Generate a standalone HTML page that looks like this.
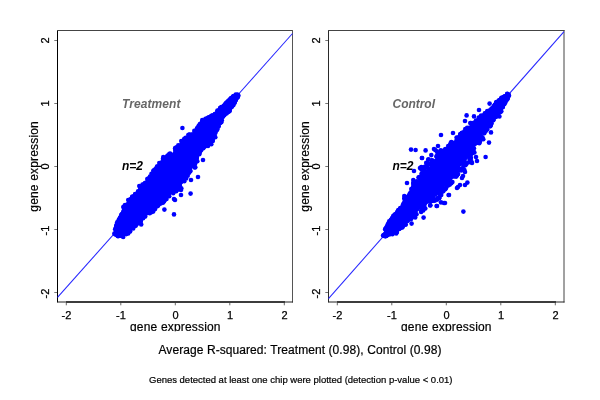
<!DOCTYPE html>
<html><head><meta charset="utf-8"><title>gene expression</title>
<style>
html,body{margin:0;padding:0;background:#fff;}
svg{display:block}
text{font-family:"Liberation Sans",sans-serif;fill:#000}
.t11{font-size:11px;stroke:#000;stroke-width:.25px}
.t12{font-size:12px;stroke:#000;stroke-width:.2px}
.t9{font-size:9.5px;stroke:#000;stroke-width:.2px}
.bi{font-size:12px;font-weight:bold;font-style:italic}
</style></head><body><svg width="600" height="400" viewBox="0 0 600 400"><defs><clipPath id="clipx"><rect x="0" y="300" width="600" height="31.3"/></clipPath></defs><rect width="600" height="400" fill="#fff"/><path d="M57.5 30V302.5" stroke="#000" fill="none"/><path d="M57 30.5H293" stroke="#444" fill="none"/><path d="M292.5 30V302.5" stroke="#555" fill="none"/><path d="M57.5 302H293" stroke="#222" fill="none"/><rect x="66" y="301.1" width="219" height="1.8" fill="#333"/><path d="M66.3 303V305.3" stroke="#666" stroke-width="1" fill="none"/><text x="66.5" y="319" text-anchor="middle" class="t11">-2</text><path d="M54.3 292.5H57" stroke="#777" stroke-width="1" fill="none"/><text transform="translate(49.3 293.5) rotate(-90)" text-anchor="middle" class="t11">-2</text><path d="M120.8 303V305.3" stroke="#666" stroke-width="1" fill="none"/><text x="121" y="319" text-anchor="middle" class="t11">-1</text><path d="M54.3 229.5H57" stroke="#777" stroke-width="1" fill="none"/><text transform="translate(49.3 230.5) rotate(-90)" text-anchor="middle" class="t11">-1</text><path d="M175.3 303V305.3" stroke="#666" stroke-width="1" fill="none"/><text x="175.5" y="319" text-anchor="middle" class="t11">0</text><path d="M54.3 166.5H57" stroke="#777" stroke-width="1" fill="none"/><text transform="translate(49.3 166.5) rotate(-90)" text-anchor="middle" class="t11">0</text><path d="M229.8 303V305.3" stroke="#666" stroke-width="1" fill="none"/><text x="230" y="319" text-anchor="middle" class="t11">1</text><path d="M54.3 103.5H57" stroke="#777" stroke-width="1" fill="none"/><text transform="translate(49.3 103.5) rotate(-90)" text-anchor="middle" class="t11">1</text><path d="M284.3 303V305.3" stroke="#666" stroke-width="1" fill="none"/><text x="284.5" y="319" text-anchor="middle" class="t11">2</text><path d="M54.3 40.5H57" stroke="#777" stroke-width="1" fill="none"/><text transform="translate(49.3 40.5) rotate(-90)" text-anchor="middle" class="t11">2</text><path d="M57.5 297.4L292.5 33.5" stroke="#2626ff" stroke-width="1.05" fill="none"/><text transform="translate(37.7 211.7) rotate(-90)" class="t12" textLength="90.5" lengthAdjust="spacing">gene expression</text><text x="130" y="331.4" class="t12" textLength="90.5" lengthAdjust="spacing" clip-path="url(#clipx)">gene expression</text><text x="122" y="108" class="bi" style="fill:#666" textLength="58.5" lengthAdjust="spacing">Treatment</text><text x="122" y="170" class="bi">n=2</text><path d="M328.5 30V302.5" stroke="#2a2a2a" fill="none"/><path d="M328 30.5H564.5" stroke="#444" fill="none"/><path d="M564 30V302.5" stroke="#444" fill="none"/><path d="M328.5 302H564.5" stroke="#222" fill="none"/><rect x="337" y="301.1" width="219" height="1.8" fill="#333"/><path d="M337.3 303V305.3" stroke="#666" stroke-width="1" fill="none"/><text x="337.5" y="319" text-anchor="middle" class="t11">-2</text><path d="M325.3 292.5H328" stroke="#777" stroke-width="1" fill="none"/><text transform="translate(320.3 293.5) rotate(-90)" text-anchor="middle" class="t11">-2</text><path d="M391.8 303V305.3" stroke="#666" stroke-width="1" fill="none"/><text x="392" y="319" text-anchor="middle" class="t11">-1</text><path d="M325.3 229.5H328" stroke="#777" stroke-width="1" fill="none"/><text transform="translate(320.3 230.5) rotate(-90)" text-anchor="middle" class="t11">-1</text><path d="M446.3 303V305.3" stroke="#666" stroke-width="1" fill="none"/><text x="446.5" y="319" text-anchor="middle" class="t11">0</text><path d="M325.3 166.5H328" stroke="#777" stroke-width="1" fill="none"/><text transform="translate(320.3 166.5) rotate(-90)" text-anchor="middle" class="t11">0</text><path d="M500.8 303V305.3" stroke="#666" stroke-width="1" fill="none"/><text x="501" y="319" text-anchor="middle" class="t11">1</text><path d="M325.3 103.5H328" stroke="#777" stroke-width="1" fill="none"/><text transform="translate(320.3 103.5) rotate(-90)" text-anchor="middle" class="t11">1</text><path d="M555.3 303V305.3" stroke="#666" stroke-width="1" fill="none"/><text x="555.5" y="319" text-anchor="middle" class="t11">2</text><path d="M325.3 40.5H328" stroke="#777" stroke-width="1" fill="none"/><text transform="translate(320.3 40.5) rotate(-90)" text-anchor="middle" class="t11">2</text><path d="M328.5 298.6L564 31.6" stroke="#2626ff" stroke-width="1.05" fill="none"/><text transform="translate(308.7 211.7) rotate(-90)" class="t12" textLength="90.5" lengthAdjust="spacing">gene expression</text><text x="401" y="331.4" class="t12" textLength="90.5" lengthAdjust="spacing" clip-path="url(#clipx)">gene expression</text><text x="392.5" y="108" class="bi" style="fill:#666" textLength="42.5" lengthAdjust="spacing">Control</text><text x="392.5" y="170" class="bi">n=2</text><g fill="#00f"><polygon points="115.9,234.8 119.1,235.0 115.2,229.1 117.7,222.5 122.0,215.8 124.6,208.3 129.7,201.5 136.5,195.3 140.9,187.6 148.7,180.4 154.8,172.5 161.0,164.7 165.1,158.8 170.7,155.4 176.7,149.4 182.7,142.4 189.5,136.2 198.1,128.9 203.4,121.1 211.7,116.5 221.5,107.3 231.3,98.1 236.3,93.5 238.7,95.9 233.1,105.2 228.9,111.0 223.1,116.2 220.7,121.8 216.4,128.6 213.8,136.0 209.5,142.8 202.1,147.3 197.9,153.1 195.4,159.7 193.0,165.3 181.8,179.2 178.4,185.8 167.0,194.4 161.1,200.4 156.4,203.7 151.3,209.7 143.8,215.1 139.4,222.7 131.9,227.2 127.0,232.3 122.2,236.0 119.1,235.0"/><circle cx="115.1" cy="234.3" r="2.3"/><circle cx="117.1" cy="231.9" r="2.3"/><circle cx="116.2" cy="227.6" r="2.3"/><circle cx="117.1" cy="225.2" r="2.3"/><circle cx="118.2" cy="222.5" r="2.3"/><circle cx="119.5" cy="219.9" r="2.3"/><circle cx="121.8" cy="217.7" r="2.3"/><circle cx="122.4" cy="214.9" r="2.3"/><circle cx="124.3" cy="212.1" r="2.3"/><circle cx="124.9" cy="209.0" r="2.3"/><circle cx="126.5" cy="206.1" r="2.3"/><circle cx="128.3" cy="204.1" r="2.3"/><circle cx="129.4" cy="202.3" r="2.3"/><circle cx="132.0" cy="200.7" r="2.3"/><circle cx="133.8" cy="198.7" r="2.3"/><circle cx="136.1" cy="196.3" r="2.3"/><circle cx="137.5" cy="194.0" r="2.3"/><circle cx="138.7" cy="191.9" r="2.3"/><circle cx="140.7" cy="189.1" r="2.3"/><circle cx="142.3" cy="187.3" r="2.3"/><circle cx="144.2" cy="185.1" r="2.3"/><circle cx="146.8" cy="183.2" r="2.3"/><circle cx="148.4" cy="181.6" r="2.3"/><circle cx="150.7" cy="179.5" r="2.3"/><circle cx="152.1" cy="176.7" r="2.3"/><circle cx="153.9" cy="174.2" r="2.3"/><circle cx="155.7" cy="172.8" r="2.3"/><circle cx="157.0" cy="170.7" r="2.3"/><circle cx="158.8" cy="168.6" r="2.3"/><circle cx="160.9" cy="165.8" r="2.3"/><circle cx="162.5" cy="163.3" r="2.3"/><circle cx="164.2" cy="161.3" r="2.3"/><circle cx="165.7" cy="159.1" r="2.3"/><circle cx="168.8" cy="157.7" r="2.3"/><circle cx="170.8" cy="156.2" r="2.3"/><circle cx="172.6" cy="154.7" r="2.3"/><circle cx="175.2" cy="152.4" r="2.3"/><circle cx="176.7" cy="149.8" r="2.3"/><circle cx="178.6" cy="148.3" r="2.3"/><circle cx="180.0" cy="146.3" r="2.3"/><circle cx="181.7" cy="143.9" r="2.3"/><circle cx="184.1" cy="142.4" r="2.3"/><circle cx="185.8" cy="140.1" r="2.3"/><circle cx="188.5" cy="138.4" r="2.3"/><circle cx="190.1" cy="136.5" r="2.3"/><circle cx="192.9" cy="134.6" r="2.3"/><circle cx="195.2" cy="132.5" r="2.3"/><circle cx="196.7" cy="130.8" r="2.3"/><circle cx="199.1" cy="129.1" r="2.3"/><circle cx="200.6" cy="125.8" r="2.3"/><circle cx="201.7" cy="124.1" r="2.3"/><circle cx="203.5" cy="121.9" r="2.3"/><circle cx="206.1" cy="120.0" r="2.3"/><circle cx="208.4" cy="119.1" r="2.3"/><circle cx="211.4" cy="117.5" r="2.3"/><circle cx="214.1" cy="115.4" r="2.3"/><circle cx="215.8" cy="113.7" r="2.3"/><circle cx="217.5" cy="111.3" r="2.3"/><circle cx="220.2" cy="109.7" r="2.3"/><circle cx="222.3" cy="107.8" r="2.3"/><circle cx="223.7" cy="105.9" r="2.3"/><circle cx="225.7" cy="104.4" r="2.3"/><circle cx="227.3" cy="102.1" r="2.3"/><circle cx="229.5" cy="100.1" r="2.3"/><circle cx="231.6" cy="98.0" r="2.3"/><circle cx="233.5" cy="96.4" r="2.3"/><circle cx="235.8" cy="94.6" r="2.3"/><circle cx="118.6" cy="235.2" r="2.3"/><circle cx="122.8" cy="234.3" r="2.3"/><circle cx="124.9" cy="233.0" r="2.3"/><circle cx="127.0" cy="230.9" r="2.3"/><circle cx="129.9" cy="229.1" r="2.3"/><circle cx="131.2" cy="227.0" r="2.3"/><circle cx="133.1" cy="225.5" r="2.3"/><circle cx="136.0" cy="223.9" r="2.3"/><circle cx="138.7" cy="222.0" r="2.3"/><circle cx="140.3" cy="220.7" r="2.3"/><circle cx="141.4" cy="217.3" r="2.3"/><circle cx="142.8" cy="214.7" r="2.3"/><circle cx="145.7" cy="213.5" r="2.3"/><circle cx="148.0" cy="211.4" r="2.3"/><circle cx="149.7" cy="210.0" r="2.3"/><circle cx="152.0" cy="208.4" r="2.3"/><circle cx="154.0" cy="206.0" r="2.3"/><circle cx="155.3" cy="203.6" r="2.3"/><circle cx="158.4" cy="202.0" r="2.3"/><circle cx="160.7" cy="200.3" r="2.3"/><circle cx="162.7" cy="198.3" r="2.3"/><circle cx="164.1" cy="196.6" r="2.3"/><circle cx="165.7" cy="194.1" r="2.3"/><circle cx="167.9" cy="192.8" r="2.3"/><circle cx="170.7" cy="191.2" r="2.3"/><circle cx="173.2" cy="188.8" r="2.3"/><circle cx="175.9" cy="187.4" r="2.3"/><circle cx="177.8" cy="185.3" r="2.3"/><circle cx="178.7" cy="183.3" r="2.3"/><circle cx="179.9" cy="180.8" r="2.3"/><circle cx="182.2" cy="178.4" r="2.3"/><circle cx="183.8" cy="175.8" r="2.3"/><circle cx="185.6" cy="174.0" r="2.3"/><circle cx="186.9" cy="172.1" r="2.3"/><circle cx="189.3" cy="169.4" r="2.3"/><circle cx="190.7" cy="167.1" r="2.3"/><circle cx="192.4" cy="165.6" r="2.3"/><circle cx="193.7" cy="162.8" r="2.3"/><circle cx="195.0" cy="159.4" r="2.3"/><circle cx="196.1" cy="157.4" r="2.3"/><circle cx="196.8" cy="153.8" r="2.3"/><circle cx="197.7" cy="151.7" r="2.3"/><circle cx="200.4" cy="149.3" r="2.3"/><circle cx="201.5" cy="147.6" r="2.3"/><circle cx="204.4" cy="145.2" r="2.3"/><circle cx="206.4" cy="144.1" r="2.3"/><circle cx="208.4" cy="142.4" r="2.3"/><circle cx="211.0" cy="139.9" r="2.3"/><circle cx="212.4" cy="138.0" r="2.3"/><circle cx="213.7" cy="135.5" r="2.3"/><circle cx="214.5" cy="132.0" r="2.3"/><circle cx="215.2" cy="129.6" r="2.3"/><circle cx="216.7" cy="127.2" r="2.3"/><circle cx="218.1" cy="124.7" r="2.3"/><circle cx="219.9" cy="122.7" r="2.3"/><circle cx="221.0" cy="119.6" r="2.3"/><circle cx="222.6" cy="117.0" r="2.3"/><circle cx="224.3" cy="114.9" r="2.3"/><circle cx="226.1" cy="112.8" r="2.3"/><circle cx="227.9" cy="110.5" r="2.3"/><circle cx="229.6" cy="108.5" r="2.3"/><circle cx="231.4" cy="106.9" r="2.3"/><circle cx="232.9" cy="104.2" r="2.3"/><circle cx="234.8" cy="101.4" r="2.3"/><circle cx="236.0" cy="99.3" r="2.3"/><circle cx="237.8" cy="96.8" r="2.3"/><circle cx="114.4" cy="233.5" r="2.3"/><circle cx="237.6" cy="94.7" r="2.3"/><circle cx="115.8" cy="232.0" r="2.3"/><circle cx="237.5" cy="94.8" r="2.3"/><circle cx="135.4" cy="225.8" r="2.3"/><circle cx="138.1" cy="192.9" r="2.3"/><circle cx="215.6" cy="131.6" r="2.3"/><circle cx="175.9" cy="148.6" r="2.3"/><circle cx="229.7" cy="109.4" r="2.3"/><circle cx="182.6" cy="142.0" r="2.3"/><circle cx="189.1" cy="172.7" r="2.3"/><circle cx="161.4" cy="163.0" r="2.3"/><circle cx="186.1" cy="178.5" r="2.3"/><circle cx="194.3" cy="130.9" r="2.3"/><circle cx="232.8" cy="104.8" r="2.3"/><circle cx="175.1" cy="148.5" r="2.3"/><circle cx="221.1" cy="119.7" r="2.3"/><circle cx="123.5" cy="211.3" r="2.3"/><circle cx="129.7" cy="229.1" r="2.3"/><circle cx="119.3" cy="219.7" r="2.3"/><circle cx="216.9" cy="129.9" r="2.3"/><circle cx="125.8" cy="205.2" r="2.3"/><circle cx="201.7" cy="147.1" r="2.3"/><circle cx="220.1" cy="108.2" r="2.3"/><circle cx="151.7" cy="212.1" r="2.3"/><circle cx="155.5" cy="171.1" r="2.3"/><circle cx="237.6" cy="97.2" r="2.3"/><circle cx="127.1" cy="204.7" r="2.3"/><circle cx="188.5" cy="171.3" r="2.3"/><circle cx="131.5" cy="200.0" r="2.3"/><circle cx="210.8" cy="139.8" r="2.3"/><circle cx="175.5" cy="150.2" r="2.3"/><circle cx="122.1" cy="235.8" r="2.3"/><circle cx="184.2" cy="140.6" r="2.3"/><circle cx="130.1" cy="231.4" r="2.3"/><circle cx="205.5" cy="118.7" r="2.3"/><circle cx="134.6" cy="225.4" r="2.3"/><circle cx="116.5" cy="225.5" r="2.3"/><circle cx="156.1" cy="203.4" r="2.3"/><circle cx="157.1" cy="166.6" r="2.3"/><circle cx="219.3" cy="123.4" r="2.3"/><circle cx="124.7" cy="205.6" r="2.3"/><circle cx="195.2" cy="163.6" r="2.3"/><circle cx="121.5" cy="217.6" r="2.3"/><circle cx="206.8" cy="144.7" r="2.3"/><circle cx="118.9" cy="219.5" r="2.3"/><circle cx="200.0" cy="152.0" r="2.3"/><circle cx="120.1" cy="217.7" r="2.3"/><circle cx="130.1" cy="230.9" r="2.3"/><circle cx="162.0" cy="163.1" r="2.3"/><circle cx="194.7" cy="167.5" r="2.3"/><circle cx="140.2" cy="189.8" r="2.3"/><circle cx="189.6" cy="169.4" r="2.3"/><circle cx="123.1" cy="214.0" r="2.3"/><circle cx="126.8" cy="232.0" r="2.3"/><circle cx="145.4" cy="183.6" r="2.3"/><circle cx="214.4" cy="133.8" r="2.3"/><circle cx="168.4" cy="157.3" r="2.3"/><circle cx="166.8" cy="193.8" r="2.3"/><circle cx="138.6" cy="192.8" r="2.3"/><circle cx="212.7" cy="138.8" r="2.3"/><circle cx="130.3" cy="200.6" r="2.3"/><circle cx="231.9" cy="105.8" r="2.3"/><circle cx="211.8" cy="116.7" r="2.3"/><circle cx="187.7" cy="175.7" r="2.3"/><circle cx="154.8" cy="171.8" r="2.3"/><circle cx="208.0" cy="145.9" r="2.3"/><circle cx="148.4" cy="178.6" r="2.3"/><circle cx="210.3" cy="143.3" r="2.3"/><circle cx="156.5" cy="170.4" r="2.3"/><circle cx="127.2" cy="231.4" r="2.3"/><circle cx="119.0" cy="220.0" r="2.3"/><circle cx="154.4" cy="205.5" r="2.3"/><circle cx="120.2" cy="217.6" r="2.3"/><circle cx="224.3" cy="115.0" r="2.3"/><circle cx="141.4" cy="187.5" r="2.3"/><circle cx="160.4" cy="201.6" r="2.3"/><circle cx="126.7" cy="205.2" r="2.3"/><circle cx="157.3" cy="206.2" r="2.3"/><circle cx="232.8" cy="97.2" r="2.3"/><circle cx="155.1" cy="208.9" r="2.3"/><circle cx="145.0" cy="183.8" r="2.3"/><circle cx="117.7" cy="236.1" r="2.3"/><circle cx="163.9" cy="159.6" r="2.3"/><circle cx="147.5" cy="213.0" r="2.3"/><circle cx="117.0" cy="234.6" r="2.3"/><circle cx="132.3" cy="227.1" r="2.3"/><circle cx="117.1" cy="225.5" r="2.3"/><circle cx="161.5" cy="199.8" r="2.3"/><circle cx="179.3" cy="145.7" r="2.3"/><circle cx="214.6" cy="136.1" r="2.3"/><circle cx="196.8" cy="128.9" r="2.3"/><circle cx="173.8" cy="189.6" r="2.3"/><circle cx="234.6" cy="95.8" r="2.3"/><circle cx="212.1" cy="140.4" r="2.3"/><circle cx="116.7" cy="224.7" r="2.3"/><circle cx="227.3" cy="112.3" r="2.3"/><circle cx="198.9" cy="126.4" r="2.3"/><circle cx="140.5" cy="222.0" r="2.3"/><circle cx="167.7" cy="155.6" r="2.3"/><circle cx="218.6" cy="126.3" r="2.3"/><circle cx="178.3" cy="145.2" r="2.3"/><circle cx="206.4" cy="145.7" r="2.3"/><circle cx="136.5" cy="196.1" r="2.3"/><circle cx="139.5" cy="222.7" r="2.3"/><circle cx="121.9" cy="214.1" r="2.3"/><circle cx="194.2" cy="165.7" r="2.3"/><circle cx="184.1" cy="140.0" r="2.3"/><circle cx="184.8" cy="174.5" r="2.3"/><circle cx="207.6" cy="118.3" r="2.3"/><circle cx="187.6" cy="173.6" r="2.3"/><circle cx="189.7" cy="136.7" r="2.3"/><circle cx="212.5" cy="137.7" r="2.3"/><circle cx="119.9" cy="219.8" r="2.3"/><circle cx="211.7" cy="138.8" r="2.3"/><circle cx="199.2" cy="125.2" r="2.3"/><circle cx="186.1" cy="174.5" r="2.3"/><circle cx="163.9" cy="158.5" r="2.3"/><circle cx="215.4" cy="132.8" r="2.3"/><circle cx="187.4" cy="138.8" r="2.3"/><circle cx="140.6" cy="220.2" r="2.3"/><circle cx="200.7" cy="125.6" r="2.3"/><circle cx="193.5" cy="162.8" r="2.3"/><circle cx="118.5" cy="222.0" r="2.3"/><circle cx="204.5" cy="146.7" r="2.3"/><circle cx="191.8" cy="134.5" r="2.3"/><circle cx="188.9" cy="171.4" r="2.3"/><circle cx="163.7" cy="161.5" r="2.3"/><circle cx="227.2" cy="111.9" r="2.3"/><circle cx="233.4" cy="96.4" r="2.3"/><circle cx="122.1" cy="235.9" r="2.3"/><circle cx="211.4" cy="116.1" r="2.3"/><circle cx="180.9" cy="181.0" r="2.3"/><circle cx="132.1" cy="197.1" r="2.3"/><circle cx="149.2" cy="212.1" r="2.3"/><circle cx="124.8" cy="207.5" r="2.3"/><circle cx="233.8" cy="103.0" r="2.3"/><circle cx="211.9" cy="116.5" r="2.3"/><circle cx="226.6" cy="113.0" r="2.3"/><circle cx="135.3" cy="194.6" r="2.3"/><circle cx="184.4" cy="175.0" r="2.3"/><circle cx="116.7" cy="234.6" r="2.3"/><circle cx="181.1" cy="180.8" r="2.3"/><circle cx="125.0" cy="207.9" r="2.3"/><circle cx="164.8" cy="199.7" r="2.3"/><circle cx="116.2" cy="234.7" r="2.3"/><circle cx="221.0" cy="119.9" r="2.3"/><circle cx="226.3" cy="102.9" r="2.3"/><circle cx="228.4" cy="110.9" r="2.3"/><circle cx="152.7" cy="175.1" r="2.3"/><circle cx="238.4" cy="95.6" r="2.3"/><circle cx="151.3" cy="176.7" r="2.3"/><circle cx="156.8" cy="202.8" r="2.3"/><circle cx="121.7" cy="214.7" r="2.3"/><circle cx="160.6" cy="203.6" r="2.3"/><circle cx="138.2" cy="192.7" r="2.3"/><circle cx="187.6" cy="171.6" r="2.3"/><circle cx="151.5" cy="173.7" r="2.3"/><circle cx="226.4" cy="113.4" r="2.3"/><circle cx="184.3" cy="138.9" r="2.3"/><circle cx="232.8" cy="105.1" r="2.3"/><circle cx="198.4" cy="129.4" r="2.3"/><circle cx="212.4" cy="138.7" r="2.3"/><circle cx="201.1" cy="123.7" r="2.3"/><circle cx="158.5" cy="201.6" r="2.3"/><circle cx="226.7" cy="103.2" r="2.3"/><circle cx="183.4" cy="177.6" r="2.3"/><circle cx="142.5" cy="184.5" r="2.3"/><circle cx="236.1" cy="99.2" r="2.3"/><circle cx="189.0" cy="136.9" r="2.3"/><circle cx="193.4" cy="165.3" r="2.3"/><circle cx="128.2" cy="204.2" r="2.3"/><circle cx="149.7" cy="213.2" r="2.3"/><circle cx="167.8" cy="157.5" r="2.3"/><circle cx="229.6" cy="110.8" r="2.3"/><circle cx="161.9" cy="164.0" r="2.3"/><circle cx="145.4" cy="213.3" r="2.3"/><circle cx="149.7" cy="180.0" r="2.3"/><circle cx="152.6" cy="208.0" r="2.3"/><circle cx="176.5" cy="147.3" r="2.3"/><circle cx="214.0" cy="135.8" r="2.3"/><circle cx="157.2" cy="168.7" r="2.3"/><circle cx="171.9" cy="191.0" r="2.3"/><circle cx="118.6" cy="221.8" r="2.3"/><circle cx="235.2" cy="100.6" r="2.3"/><circle cx="168.0" cy="156.1" r="2.3"/><circle cx="222.9" cy="115.7" r="2.3"/><circle cx="140.3" cy="189.2" r="2.3"/><circle cx="175.8" cy="188.7" r="2.3"/><circle cx="230.0" cy="99.4" r="2.3"/><circle cx="224.3" cy="114.4" r="2.3"/><circle cx="116.1" cy="227.0" r="2.3"/><circle cx="227.7" cy="111.8" r="2.3"/><circle cx="180.2" cy="146.2" r="2.3"/><circle cx="176.2" cy="191.2" r="2.3"/><circle cx="212.3" cy="115.5" r="2.3"/><circle cx="235.7" cy="99.9" r="2.3"/><circle cx="123.0" cy="214.1" r="2.3"/><circle cx="190.3" cy="171.2" r="2.3"/><circle cx="228.4" cy="101.0" r="2.3"/><circle cx="201.3" cy="150.0" r="2.3"/><circle cx="161.9" cy="162.2" r="2.3"/><circle cx="126.2" cy="234.1" r="2.3"/><circle cx="135.4" cy="194.4" r="2.3"/><circle cx="200.3" cy="149.5" r="2.3"/><circle cx="124.2" cy="210.4" r="2.3"/><circle cx="200.0" cy="151.6" r="2.3"/><circle cx="123.3" cy="213.5" r="2.3"/><circle cx="190.2" cy="170.6" r="2.3"/><circle cx="154.8" cy="173.0" r="2.3"/><circle cx="196.0" cy="156.7" r="2.3"/><circle cx="143.7" cy="184.6" r="2.3"/><circle cx="234.6" cy="102.2" r="2.3"/><circle cx="220.7" cy="108.5" r="2.3"/><circle cx="152.0" cy="208.6" r="2.3"/><circle cx="231.0" cy="98.6" r="2.3"/><circle cx="161.6" cy="199.1" r="2.3"/><circle cx="167.0" cy="156.5" r="2.3"/><circle cx="178.3" cy="186.0" r="2.3"/><circle cx="189.5" cy="134.5" r="2.3"/><circle cx="150.7" cy="209.4" r="2.3"/><circle cx="148.8" cy="180.1" r="2.3"/><circle cx="205.4" cy="144.9" r="2.3"/><circle cx="207.5" cy="118.3" r="2.3"/><circle cx="186.9" cy="172.5" r="2.3"/><circle cx="232.5" cy="97.6" r="2.3"/><circle cx="219.4" cy="123.2" r="2.3"/><circle cx="134.2" cy="196.1" r="2.3"/><circle cx="162.2" cy="202.7" r="2.3"/><circle cx="167.6" cy="157.7" r="2.3"/><circle cx="150.8" cy="210.4" r="2.3"/><circle cx="189.1" cy="134.7" r="2.3"/><circle cx="140.8" cy="220.6" r="2.3"/><circle cx="132.5" cy="196.6" r="2.3"/><circle cx="139.8" cy="220.8" r="2.3"/><circle cx="118.3" cy="222.0" r="2.3"/><circle cx="228.4" cy="111.8" r="2.3"/><circle cx="198.5" cy="126.2" r="2.3"/><circle cx="231.7" cy="106.4" r="2.3"/><circle cx="128.7" cy="200.1" r="2.3"/><circle cx="213.2" cy="136.0" r="2.3"/><circle cx="190.1" cy="135.7" r="2.3"/><circle cx="171.4" cy="191.3" r="2.3"/><circle cx="128.6" cy="204.0" r="2.3"/><circle cx="158.0" cy="202.7" r="2.3"/><circle cx="230.6" cy="99.5" r="2.3"/><circle cx="234.9" cy="101.2" r="2.3"/><circle cx="150.0" cy="176.5" r="2.3"/><circle cx="219.8" cy="123.0" r="2.3"/><circle cx="117.4" cy="223.9" r="2.3"/><circle cx="173.2" cy="193.2" r="2.3"/><circle cx="131.0" cy="200.3" r="2.3"/><circle cx="227.6" cy="111.4" r="2.3"/><circle cx="156.1" cy="168.5" r="2.3"/><circle cx="214.6" cy="132.2" r="2.3"/><circle cx="116.6" cy="226.8" r="2.3"/><circle cx="230.4" cy="108.1" r="2.3"/><circle cx="200.1" cy="124.1" r="2.3"/><circle cx="166.1" cy="195.2" r="2.3"/><circle cx="230.7" cy="99.0" r="2.3"/><circle cx="156.4" cy="205.7" r="2.3"/><circle cx="146.1" cy="183.1" r="2.3"/><circle cx="118.4" cy="236.0" r="2.3"/><circle cx="225.0" cy="104.2" r="2.3"/><circle cx="232.8" cy="104.5" r="2.3"/><circle cx="136.5" cy="195.0" r="2.3"/><circle cx="234.6" cy="102.7" r="2.3"/><circle cx="154.6" cy="173.2" r="2.3"/><circle cx="179.9" cy="184.9" r="2.3"/><circle cx="226.8" cy="103.0" r="2.3"/><circle cx="218.3" cy="126.5" r="2.3"/><circle cx="212.0" cy="115.9" r="2.3"/><circle cx="196.8" cy="155.9" r="2.3"/><circle cx="146.4" cy="182.5" r="2.3"/><circle cx="215.7" cy="129.2" r="2.3"/><circle cx="130.8" cy="199.0" r="2.3"/><circle cx="153.2" cy="206.6" r="2.3"/><circle cx="116.3" cy="226.8" r="2.3"/><circle cx="166.5" cy="198.9" r="2.3"/><circle cx="220.2" cy="108.1" r="2.3"/><circle cx="155.4" cy="204.1" r="2.3"/><circle cx="121.8" cy="216.1" r="2.3"/><circle cx="210.2" cy="142.4" r="2.3"/><circle cx="136.6" cy="195.0" r="2.3"/><circle cx="198.4" cy="154.1" r="2.3"/><circle cx="200.3" cy="124.1" r="2.3"/><circle cx="202.3" cy="146.6" r="2.3"/><circle cx="214.9" cy="114.0" r="2.3"/><circle cx="194.0" cy="163.5" r="2.3"/><circle cx="200.2" cy="126.5" r="2.3"/><circle cx="153.5" cy="206.8" r="2.3"/><circle cx="125.2" cy="205.0" r="2.3"/><circle cx="194.8" cy="161.3" r="2.3"/><circle cx="153.9" cy="170.3" r="2.3"/><circle cx="187.3" cy="172.2" r="2.3"/><circle cx="209.7" cy="117.4" r="2.3"/><circle cx="237.5" cy="96.8" r="2.3"/><circle cx="163.0" cy="158.8" r="2.3"/><circle cx="221.8" cy="120.2" r="2.3"/><circle cx="116.9" cy="225.7" r="2.3"/><circle cx="136.9" cy="223.9" r="2.3"/><circle cx="232.8" cy="97.1" r="2.3"/><circle cx="231.6" cy="106.7" r="2.3"/><circle cx="218.3" cy="110.7" r="2.3"/><circle cx="156.3" cy="206.2" r="2.3"/><circle cx="229.3" cy="100.7" r="2.3"/><circle cx="196.7" cy="158.6" r="2.3"/><circle cx="134.4" cy="197.2" r="2.3"/><circle cx="140.0" cy="221.1" r="2.3"/><circle cx="138.1" cy="191.3" r="2.3"/><circle cx="200.8" cy="148.5" r="2.3"/><circle cx="118.7" cy="234.4" r="2.3"/><circle cx="204.7" cy="145.3" r="2.3"/><circle cx="145.6" cy="183.7" r="2.3"/><circle cx="217.3" cy="127.4" r="2.3"/><circle cx="118.9" cy="221.7" r="2.3"/><circle cx="175.4" cy="189.5" r="2.3"/><circle cx="186.9" cy="139.2" r="2.3"/><circle cx="143.1" cy="218.3" r="2.3"/><circle cx="157.2" cy="169.7" r="2.3"/><circle cx="164.1" cy="201.2" r="2.3"/><circle cx="145.0" cy="183.1" r="2.3"/><circle cx="169.1" cy="193.4" r="2.3"/><circle cx="217.5" cy="110.5" r="2.3"/><circle cx="169.6" cy="192.2" r="2.3"/><circle cx="199.2" cy="128.1" r="2.3"/><circle cx="118.8" cy="235.9" r="2.3"/><circle cx="157.5" cy="166.6" r="2.3"/><circle cx="178.4" cy="189.5" r="2.3"/><circle cx="163.1" cy="162.3" r="2.3"/><circle cx="121.0" cy="235.6" r="2.3"/><circle cx="185.7" cy="137.7" r="2.3"/><circle cx="132.6" cy="227.5" r="2.3"/><circle cx="152.3" cy="175.1" r="2.3"/><circle cx="140.6" cy="220.5" r="2.3"/><circle cx="170.1" cy="153.6" r="2.3"/><circle cx="135.7" cy="225.4" r="2.3"/><circle cx="208.6" cy="117.4" r="2.3"/><circle cx="146.2" cy="212.8" r="2.3"/><circle cx="228.5" cy="100.7" r="2.3"/><circle cx="184.1" cy="175.5" r="2.3"/><circle cx="226.5" cy="103.1" r="2.3"/><circle cx="229.0" cy="110.8" r="2.3"/><circle cx="212.8" cy="116.2" r="2.3"/><circle cx="216.0" cy="128.7" r="2.3"/><circle cx="155.3" cy="169.4" r="2.3"/><circle cx="220.3" cy="121.7" r="2.3"/><circle cx="134.4" cy="197.1" r="2.3"/><circle cx="188.9" cy="171.0" r="2.3"/><circle cx="123.8" cy="211.3" r="2.3"/><circle cx="212.8" cy="140.9" r="2.3"/><circle cx="116.8" cy="225.4" r="2.3"/><circle cx="214.0" cy="133.9" r="2.3"/><circle cx="214.7" cy="114.5" r="2.3"/><circle cx="196.8" cy="157.8" r="2.3"/><circle cx="185.0" cy="140.5" r="2.3"/><circle cx="179.4" cy="186.9" r="2.3"/><circle cx="158.2" cy="166.7" r="2.3"/><circle cx="181.2" cy="181.9" r="2.3"/><circle cx="115.6" cy="228.7" r="2.3"/><circle cx="185.2" cy="174.8" r="2.3"/><circle cx="202.0" cy="121.7" r="2.3"/><circle cx="181.5" cy="179.3" r="2.3"/><circle cx="164.5" cy="160.5" r="2.3"/><circle cx="119.5" cy="235.3" r="2.3"/><circle cx="115.2" cy="229.2" r="2.3"/><circle cx="117.2" cy="222.2" r="2.3"/><circle cx="121.3" cy="215.1" r="2.3"/><circle cx="123.3" cy="207.1" r="2.3"/><circle cx="128.3" cy="200.1" r="2.3"/><circle cx="135.3" cy="194.1" r="2.3"/><circle cx="139.3" cy="186.1" r="2.3"/><circle cx="147.3" cy="179.1" r="2.3"/><circle cx="153.3" cy="171.1" r="2.3"/><circle cx="159.3" cy="163.1" r="2.3"/><circle cx="163.3" cy="157.1" r="2.3"/><circle cx="169.3" cy="154.1" r="2.3"/><circle cx="175.3" cy="148.1" r="2.3"/><circle cx="181.3" cy="141.1" r="2.3"/><circle cx="188.3" cy="135.1" r="2.3"/><circle cx="197.3" cy="128.1" r="2.3"/><circle cx="202.3" cy="120.1" r="2.3"/><circle cx="211.3" cy="116.1" r="2.3"/><circle cx="221.3" cy="107.1" r="2.3"/><circle cx="231.3" cy="98.1" r="2.3"/><circle cx="123.2" cy="236.9" r="2.3"/><circle cx="128.2" cy="233.4" r="2.3"/><circle cx="133.2" cy="228.4" r="2.3"/><circle cx="141.2" cy="224.4" r="2.3"/><circle cx="145.2" cy="216.4" r="2.3"/><circle cx="153.2" cy="211.4" r="2.3"/><circle cx="158.2" cy="205.4" r="2.3"/><circle cx="163.2" cy="202.4" r="2.3"/><circle cx="169.2" cy="196.3" r="2.3"/><circle cx="181.3" cy="188.3" r="2.3"/><circle cx="184.3" cy="181.3" r="2.3"/><circle cx="195.3" cy="167.3" r="2.3"/><circle cx="197.3" cy="161.3" r="2.3"/><circle cx="199.3" cy="154.3" r="2.3"/><circle cx="203.3" cy="148.3" r="2.3"/><circle cx="211.3" cy="144.3" r="2.3"/><circle cx="215.3" cy="137.3" r="2.3"/><circle cx="217.3" cy="129.3" r="2.3"/><circle cx="221.3" cy="122.3" r="2.3"/><circle cx="223.3" cy="116.3" r="2.3"/><circle cx="229.3" cy="111.3" r="2.3"/><circle cx="233.3" cy="105.3" r="2.3"/><circle cx="182.4" cy="128.0" r="2.3"/><circle cx="203.0" cy="160.0" r="2.3"/><circle cx="198.0" cy="177.0" r="2.3"/><circle cx="191.0" cy="180.0" r="2.3"/><circle cx="181.0" cy="190.0" r="2.3"/><circle cx="190.6" cy="193.6" r="2.3"/><circle cx="174.0" cy="199.0" r="2.3"/><circle cx="164.4" cy="209.6" r="2.3"/><circle cx="174.0" cy="214.4" r="2.3"/><circle cx="175.0" cy="200.0" r="2.3"/><circle cx="181.0" cy="195.0" r="2.3"/><polygon points="383.0,234.9 386.3,235.2 385.7,229.6 390.4,222.2 394.5,217.3 399.6,211.3 404.6,205.4 407.0,198.6 413.8,191.4 417.2,183.6 422.4,180.0 426.0,171.3 436.1,159.4 440.2,154.5 448.2,151.7 454.2,144.8 462.8,136.4 467.7,131.3 472.8,125.3 488.4,112.1 497.1,102.8 501.8,98.6 507.5,93.7 509.6,95.7 503.8,103.9 500.1,110.2 492.1,119.2 488.5,124.8 482.5,131.8 480.5,136.9 476.6,141.0 470.6,147.9 466.8,157.4 461.4,161.9 446.9,179.5 441.1,185.6 439.1,187.7 434.6,194.3 426.3,201.8 419.8,207.3 412.2,214.7 400.1,225.5 394.3,231.6 386.2,235.7"/><circle cx="383.1" cy="235.5" r="2.3"/><circle cx="385.6" cy="234.1" r="2.3"/><circle cx="385.8" cy="229.9" r="2.3"/><circle cx="387.3" cy="227.4" r="2.3"/><circle cx="389.4" cy="225.4" r="2.3"/><circle cx="390.3" cy="222.7" r="2.3"/><circle cx="392.3" cy="220.7" r="2.3"/><circle cx="394.2" cy="218.0" r="2.3"/><circle cx="396.6" cy="216.5" r="2.3"/><circle cx="398.2" cy="214.4" r="2.3"/><circle cx="399.7" cy="212.8" r="2.3"/><circle cx="401.7" cy="210.4" r="2.3"/><circle cx="403.3" cy="207.4" r="2.3"/><circle cx="405.6" cy="205.9" r="2.3"/><circle cx="405.7" cy="203.2" r="2.3"/><circle cx="407.0" cy="199.7" r="2.3"/><circle cx="408.7" cy="197.3" r="2.3"/><circle cx="410.5" cy="195.3" r="2.3"/><circle cx="412.8" cy="194.0" r="2.3"/><circle cx="414.0" cy="191.7" r="2.3"/><circle cx="415.4" cy="188.8" r="2.3"/><circle cx="416.1" cy="186.3" r="2.3"/><circle cx="418.2" cy="184.2" r="2.3"/><circle cx="420.9" cy="182.2" r="2.3"/><circle cx="422.8" cy="180.8" r="2.3"/><circle cx="423.7" cy="178.0" r="2.3"/><circle cx="425.1" cy="174.7" r="2.3"/><circle cx="426.5" cy="172.0" r="2.3"/><circle cx="428.3" cy="170.2" r="2.3"/><circle cx="429.8" cy="168.5" r="2.3"/><circle cx="431.6" cy="165.5" r="2.3"/><circle cx="433.4" cy="163.2" r="2.3"/><circle cx="435.6" cy="161.1" r="2.3"/><circle cx="437.1" cy="159.6" r="2.3"/><circle cx="438.5" cy="157.0" r="2.3"/><circle cx="440.4" cy="154.5" r="2.3"/><circle cx="443.6" cy="153.5" r="2.3"/><circle cx="447.0" cy="153.0" r="2.3"/><circle cx="449.4" cy="151.5" r="2.3"/><circle cx="450.6" cy="149.1" r="2.3"/><circle cx="452.3" cy="147.3" r="2.3"/><circle cx="454.8" cy="145.0" r="2.3"/><circle cx="457.1" cy="143.4" r="2.3"/><circle cx="458.3" cy="141.3" r="2.3"/><circle cx="460.5" cy="138.8" r="2.3"/><circle cx="462.3" cy="137.5" r="2.3"/><circle cx="464.4" cy="135.4" r="2.3"/><circle cx="466.5" cy="133.5" r="2.3"/><circle cx="468.4" cy="130.9" r="2.3"/><circle cx="470.5" cy="128.9" r="2.3"/><circle cx="472.3" cy="127.5" r="2.3"/><circle cx="473.8" cy="124.9" r="2.3"/><circle cx="476.2" cy="123.5" r="2.3"/><circle cx="478.9" cy="121.1" r="2.3"/><circle cx="480.4" cy="119.3" r="2.3"/><circle cx="482.6" cy="118.0" r="2.3"/><circle cx="484.9" cy="115.6" r="2.3"/><circle cx="487.2" cy="113.8" r="2.3"/><circle cx="489.7" cy="111.9" r="2.3"/><circle cx="491.3" cy="110.5" r="2.3"/><circle cx="492.8" cy="108.3" r="2.3"/><circle cx="494.8" cy="105.8" r="2.3"/><circle cx="496.9" cy="104.4" r="2.3"/><circle cx="498.7" cy="102.4" r="2.3"/><circle cx="501.1" cy="99.5" r="2.3"/><circle cx="503.0" cy="98.5" r="2.3"/><circle cx="505.4" cy="96.4" r="2.3"/><circle cx="507.4" cy="94.1" r="2.3"/><circle cx="385.5" cy="235.3" r="2.3"/><circle cx="388.5" cy="234.5" r="2.3"/><circle cx="391.5" cy="232.5" r="2.3"/><circle cx="393.8" cy="231.8" r="2.3"/><circle cx="395.9" cy="229.0" r="2.3"/><circle cx="397.9" cy="226.9" r="2.3"/><circle cx="399.2" cy="225.1" r="2.3"/><circle cx="401.2" cy="223.1" r="2.3"/><circle cx="403.9" cy="221.7" r="2.3"/><circle cx="406.4" cy="219.6" r="2.3"/><circle cx="408.0" cy="217.3" r="2.3"/><circle cx="410.2" cy="215.6" r="2.3"/><circle cx="412.5" cy="213.6" r="2.3"/><circle cx="414.2" cy="212.1" r="2.3"/><circle cx="416.4" cy="209.4" r="2.3"/><circle cx="418.2" cy="207.4" r="2.3"/><circle cx="420.0" cy="206.1" r="2.3"/><circle cx="423.0" cy="204.3" r="2.3"/><circle cx="424.7" cy="202.1" r="2.3"/><circle cx="426.9" cy="200.1" r="2.3"/><circle cx="429.0" cy="199.1" r="2.3"/><circle cx="431.2" cy="196.8" r="2.3"/><circle cx="433.5" cy="195.1" r="2.3"/><circle cx="435.2" cy="193.0" r="2.3"/><circle cx="436.9" cy="190.5" r="2.3"/><circle cx="438.2" cy="188.3" r="2.3"/><circle cx="439.8" cy="185.8" r="2.3"/><circle cx="441.8" cy="184.2" r="2.3"/><circle cx="443.8" cy="182.5" r="2.3"/><circle cx="445.1" cy="179.8" r="2.3"/><circle cx="447.6" cy="178.4" r="2.3"/><circle cx="449.0" cy="175.5" r="2.3"/><circle cx="450.5" cy="173.5" r="2.3"/><circle cx="453.1" cy="171.2" r="2.3"/><circle cx="455.0" cy="169.1" r="2.3"/><circle cx="456.2" cy="167.3" r="2.3"/><circle cx="458.4" cy="165.1" r="2.3"/><circle cx="460.5" cy="162.6" r="2.3"/><circle cx="462.0" cy="161.2" r="2.3"/><circle cx="464.8" cy="158.8" r="2.3"/><circle cx="465.9" cy="157.1" r="2.3"/><circle cx="466.9" cy="154.2" r="2.3"/><circle cx="469.0" cy="151.4" r="2.3"/><circle cx="470.0" cy="148.8" r="2.3"/><circle cx="471.1" cy="146.1" r="2.3"/><circle cx="472.5" cy="144.2" r="2.3"/><circle cx="474.8" cy="141.7" r="2.3"/><circle cx="476.6" cy="140.1" r="2.3"/><circle cx="478.2" cy="138.2" r="2.3"/><circle cx="480.4" cy="136.0" r="2.3"/><circle cx="481.2" cy="132.9" r="2.3"/><circle cx="483.2" cy="130.1" r="2.3"/><circle cx="485.0" cy="128.1" r="2.3"/><circle cx="486.1" cy="126.5" r="2.3"/><circle cx="488.5" cy="124.3" r="2.3"/><circle cx="489.9" cy="121.9" r="2.3"/><circle cx="491.2" cy="119.1" r="2.3"/><circle cx="493.1" cy="116.6" r="2.3"/><circle cx="495.0" cy="114.6" r="2.3"/><circle cx="496.3" cy="113.1" r="2.3"/><circle cx="499.3" cy="111.0" r="2.3"/><circle cx="500.0" cy="108.9" r="2.3"/><circle cx="502.0" cy="106.3" r="2.3"/><circle cx="503.0" cy="103.9" r="2.3"/><circle cx="505.0" cy="101.7" r="2.3"/><circle cx="506.7" cy="99.5" r="2.3"/><circle cx="507.8" cy="96.7" r="2.3"/><circle cx="383.6" cy="235.5" r="2.3"/><circle cx="508.6" cy="94.7" r="2.3"/><circle cx="384.7" cy="234.3" r="2.3"/><circle cx="508.5" cy="94.8" r="2.3"/><circle cx="476.9" cy="142.2" r="2.3"/><circle cx="393.9" cy="217.0" r="2.3"/><circle cx="399.3" cy="229.0" r="2.3"/><circle cx="464.3" cy="131.6" r="2.3"/><circle cx="469.1" cy="153.3" r="2.3"/><circle cx="424.8" cy="171.0" r="2.3"/><circle cx="497.5" cy="112.4" r="2.3"/><circle cx="492.6" cy="108.5" r="2.3"/><circle cx="415.4" cy="211.8" r="2.3"/><circle cx="493.7" cy="106.3" r="2.3"/><circle cx="441.9" cy="191.7" r="2.3"/><circle cx="407.0" cy="197.4" r="2.3"/><circle cx="459.8" cy="169.3" r="2.3"/><circle cx="471.8" cy="124.2" r="2.3"/><circle cx="435.7" cy="194.0" r="2.3"/><circle cx="399.0" cy="210.0" r="2.3"/><circle cx="473.1" cy="148.3" r="2.3"/><circle cx="401.6" cy="208.7" r="2.3"/><circle cx="484.7" cy="130.5" r="2.3"/><circle cx="396.2" cy="214.9" r="2.3"/><circle cx="497.0" cy="113.3" r="2.3"/><circle cx="404.5" cy="205.8" r="2.3"/><circle cx="478.6" cy="142.8" r="2.3"/><circle cx="400.2" cy="211.3" r="2.3"/><circle cx="421.4" cy="206.7" r="2.3"/><circle cx="440.5" cy="154.5" r="2.3"/><circle cx="432.5" cy="196.3" r="2.3"/><circle cx="503.9" cy="96.7" r="2.3"/><circle cx="402.7" cy="226.8" r="2.3"/><circle cx="393.4" cy="218.6" r="2.3"/><circle cx="507.8" cy="98.1" r="2.3"/><circle cx="470.0" cy="127.6" r="2.3"/><circle cx="415.4" cy="214.3" r="2.3"/><circle cx="394.3" cy="218.1" r="2.3"/><circle cx="439.1" cy="187.0" r="2.3"/><circle cx="422.4" cy="169.5" r="2.3"/><circle cx="476.1" cy="143.0" r="2.3"/><circle cx="456.7" cy="141.1" r="2.3"/><circle cx="407.4" cy="220.9" r="2.3"/><circle cx="423.1" cy="168.6" r="2.3"/><circle cx="500.1" cy="110.3" r="2.3"/><circle cx="448.1" cy="148.2" r="2.3"/><circle cx="443.9" cy="183.0" r="2.3"/><circle cx="467.2" cy="127.8" r="2.3"/><circle cx="485.0" cy="130.6" r="2.3"/><circle cx="486.8" cy="112.5" r="2.3"/><circle cx="470.4" cy="151.0" r="2.3"/><circle cx="414.6" cy="184.2" r="2.3"/><circle cx="400.4" cy="225.8" r="2.3"/><circle cx="476.0" cy="120.6" r="2.3"/><circle cx="468.9" cy="152.7" r="2.3"/><circle cx="427.1" cy="167.4" r="2.3"/><circle cx="468.9" cy="154.7" r="2.3"/><circle cx="460.9" cy="134.1" r="2.3"/><circle cx="413.6" cy="216.0" r="2.3"/><circle cx="476.3" cy="121.9" r="2.3"/><circle cx="456.2" cy="176.6" r="2.3"/><circle cx="386.5" cy="228.4" r="2.3"/><circle cx="410.9" cy="219.2" r="2.3"/><circle cx="499.0" cy="101.1" r="2.3"/><circle cx="401.3" cy="225.8" r="2.3"/><circle cx="442.0" cy="151.1" r="2.3"/><circle cx="456.9" cy="171.6" r="2.3"/><circle cx="483.6" cy="115.5" r="2.3"/><circle cx="446.2" cy="187.7" r="2.3"/><circle cx="404.7" cy="201.3" r="2.3"/><circle cx="442.7" cy="189.1" r="2.3"/><circle cx="394.7" cy="214.5" r="2.3"/><circle cx="435.5" cy="192.1" r="2.3"/><circle cx="412.5" cy="192.1" r="2.3"/><circle cx="386.9" cy="235.1" r="2.3"/><circle cx="425.3" cy="166.6" r="2.3"/><circle cx="435.9" cy="193.2" r="2.3"/><circle cx="405.2" cy="198.1" r="2.3"/><circle cx="503.1" cy="104.9" r="2.3"/><circle cx="404.7" cy="199.1" r="2.3"/><circle cx="440.0" cy="186.9" r="2.3"/><circle cx="396.0" cy="213.9" r="2.3"/><circle cx="489.2" cy="125.4" r="2.3"/><circle cx="432.0" cy="160.3" r="2.3"/><circle cx="421.1" cy="211.9" r="2.3"/><circle cx="420.2" cy="179.1" r="2.3"/><circle cx="490.6" cy="124.3" r="2.3"/><circle cx="433.3" cy="161.7" r="2.3"/><circle cx="459.0" cy="164.4" r="2.3"/><circle cx="484.6" cy="115.2" r="2.3"/><circle cx="492.7" cy="118.2" r="2.3"/><circle cx="423.7" cy="176.3" r="2.3"/><circle cx="444.4" cy="182.2" r="2.3"/><circle cx="384.0" cy="235.2" r="2.3"/><circle cx="426.0" cy="202.3" r="2.3"/><circle cx="414.6" cy="187.0" r="2.3"/><circle cx="446.8" cy="183.7" r="2.3"/><circle cx="460.7" cy="137.9" r="2.3"/><circle cx="502.6" cy="107.3" r="2.3"/><circle cx="387.8" cy="224.9" r="2.3"/><circle cx="500.5" cy="111.2" r="2.3"/><circle cx="397.2" cy="212.2" r="2.3"/><circle cx="468.6" cy="151.5" r="2.3"/><circle cx="386.4" cy="235.1" r="2.3"/><circle cx="470.8" cy="147.7" r="2.3"/><circle cx="393.7" cy="218.9" r="2.3"/><circle cx="421.3" cy="210.1" r="2.3"/><circle cx="420.9" cy="181.3" r="2.3"/><circle cx="500.3" cy="111.5" r="2.3"/><circle cx="400.4" cy="208.1" r="2.3"/><circle cx="470.1" cy="159.1" r="2.3"/><circle cx="460.1" cy="135.1" r="2.3"/><circle cx="487.1" cy="129.0" r="2.3"/><circle cx="404.2" cy="204.0" r="2.3"/><circle cx="459.6" cy="169.3" r="2.3"/><circle cx="426.2" cy="162.9" r="2.3"/><circle cx="460.2" cy="163.8" r="2.3"/><circle cx="407.9" cy="198.1" r="2.3"/><circle cx="452.2" cy="172.3" r="2.3"/><circle cx="433.8" cy="162.4" r="2.3"/><circle cx="453.7" cy="174.0" r="2.3"/><circle cx="440.8" cy="150.4" r="2.3"/><circle cx="386.1" cy="236.0" r="2.3"/><circle cx="431.9" cy="160.5" r="2.3"/><circle cx="473.9" cy="148.2" r="2.3"/><circle cx="423.0" cy="176.0" r="2.3"/><circle cx="504.9" cy="101.3" r="2.3"/><circle cx="456.7" cy="140.0" r="2.3"/><circle cx="390.2" cy="234.1" r="2.3"/><circle cx="461.8" cy="133.1" r="2.3"/><circle cx="437.1" cy="199.8" r="2.3"/><circle cx="437.4" cy="154.7" r="2.3"/><circle cx="498.3" cy="111.3" r="2.3"/><circle cx="467.6" cy="129.2" r="2.3"/><circle cx="437.5" cy="198.1" r="2.3"/><circle cx="422.2" cy="177.5" r="2.3"/><circle cx="459.1" cy="170.2" r="2.3"/><circle cx="405.5" cy="201.8" r="2.3"/><circle cx="445.5" cy="184.1" r="2.3"/><circle cx="483.7" cy="116.2" r="2.3"/><circle cx="490.5" cy="122.0" r="2.3"/><circle cx="437.7" cy="156.7" r="2.3"/><circle cx="458.1" cy="174.1" r="2.3"/><circle cx="458.5" cy="137.2" r="2.3"/><circle cx="433.4" cy="196.4" r="2.3"/><circle cx="414.0" cy="187.1" r="2.3"/><circle cx="471.4" cy="153.6" r="2.3"/><circle cx="386.4" cy="227.9" r="2.3"/><circle cx="497.5" cy="113.6" r="2.3"/><circle cx="387.9" cy="226.7" r="2.3"/><circle cx="385.6" cy="235.7" r="2.3"/><circle cx="496.2" cy="103.4" r="2.3"/><circle cx="472.8" cy="149.0" r="2.3"/><circle cx="494.7" cy="105.0" r="2.3"/><circle cx="469.7" cy="156.6" r="2.3"/><circle cx="464.9" cy="132.3" r="2.3"/><circle cx="473.8" cy="144.1" r="2.3"/><circle cx="461.5" cy="136.7" r="2.3"/><circle cx="482.4" cy="131.1" r="2.3"/><circle cx="403.6" cy="207.5" r="2.3"/><circle cx="485.7" cy="131.1" r="2.3"/><circle cx="460.2" cy="138.4" r="2.3"/><circle cx="490.8" cy="123.6" r="2.3"/><circle cx="448.3" cy="151.4" r="2.3"/><circle cx="429.7" cy="200.4" r="2.3"/><circle cx="415.9" cy="183.9" r="2.3"/><circle cx="472.4" cy="152.8" r="2.3"/><circle cx="388.0" cy="225.6" r="2.3"/><circle cx="391.5" cy="232.6" r="2.3"/><circle cx="480.7" cy="117.6" r="2.3"/><circle cx="501.1" cy="108.5" r="2.3"/><circle cx="386.0" cy="234.1" r="2.3"/><circle cx="469.0" cy="162.2" r="2.3"/><circle cx="504.9" cy="96.2" r="2.3"/><circle cx="442.4" cy="183.8" r="2.3"/><circle cx="459.1" cy="140.2" r="2.3"/><circle cx="407.3" cy="218.3" r="2.3"/><circle cx="384.6" cy="235.2" r="2.3"/><circle cx="405.7" cy="224.5" r="2.3"/><circle cx="390.9" cy="219.7" r="2.3"/><circle cx="404.1" cy="221.2" r="2.3"/><circle cx="468.8" cy="130.0" r="2.3"/><circle cx="480.4" cy="136.7" r="2.3"/><circle cx="387.3" cy="226.1" r="2.3"/><circle cx="480.0" cy="141.4" r="2.3"/><circle cx="470.4" cy="128.8" r="2.3"/><circle cx="470.7" cy="154.5" r="2.3"/><circle cx="428.5" cy="159.4" r="2.3"/><circle cx="425.3" cy="208.5" r="2.3"/><circle cx="469.0" cy="130.7" r="2.3"/><circle cx="387.4" cy="235.2" r="2.3"/><circle cx="482.6" cy="117.6" r="2.3"/><circle cx="432.6" cy="200.7" r="2.3"/><circle cx="400.2" cy="208.5" r="2.3"/><circle cx="451.4" cy="173.3" r="2.3"/><circle cx="421.8" cy="176.9" r="2.3"/><circle cx="448.3" cy="182.5" r="2.3"/><circle cx="397.8" cy="211.6" r="2.3"/><circle cx="438.9" cy="193.1" r="2.3"/><circle cx="456.5" cy="141.6" r="2.3"/><circle cx="442.0" cy="190.2" r="2.3"/><circle cx="499.3" cy="100.3" r="2.3"/><circle cx="461.8" cy="162.1" r="2.3"/><circle cx="387.9" cy="224.0" r="2.3"/><circle cx="478.5" cy="142.7" r="2.3"/><circle cx="416.8" cy="181.3" r="2.3"/><circle cx="507.2" cy="99.1" r="2.3"/><circle cx="453.0" cy="145.7" r="2.3"/><circle cx="448.3" cy="185.0" r="2.3"/><circle cx="421.8" cy="174.6" r="2.3"/><circle cx="470.3" cy="160.9" r="2.3"/><circle cx="480.9" cy="118.5" r="2.3"/><circle cx="385.0" cy="236.3" r="2.3"/><circle cx="426.2" cy="166.9" r="2.3"/><circle cx="490.5" cy="124.9" r="2.3"/><circle cx="386.5" cy="227.4" r="2.3"/><circle cx="490.1" cy="125.6" r="2.3"/><circle cx="449.5" cy="150.0" r="2.3"/><circle cx="493.7" cy="118.9" r="2.3"/><circle cx="462.2" cy="132.9" r="2.3"/><circle cx="434.7" cy="193.5" r="2.3"/><circle cx="444.6" cy="150.2" r="2.3"/><circle cx="416.5" cy="214.2" r="2.3"/><circle cx="498.1" cy="102.5" r="2.3"/><circle cx="469.4" cy="158.8" r="2.3"/><circle cx="433.3" cy="162.5" r="2.3"/><circle cx="424.3" cy="207.5" r="2.3"/><circle cx="478.2" cy="120.1" r="2.3"/><circle cx="400.2" cy="228.1" r="2.3"/><circle cx="475.8" cy="122.9" r="2.3"/><circle cx="466.7" cy="163.4" r="2.3"/><circle cx="491.5" cy="108.5" r="2.3"/><circle cx="452.4" cy="176.6" r="2.3"/><circle cx="404.4" cy="206.3" r="2.3"/><circle cx="413.5" cy="216.5" r="2.3"/><circle cx="421.6" cy="177.8" r="2.3"/><circle cx="442.7" cy="186.6" r="2.3"/><circle cx="399.6" cy="212.2" r="2.3"/><circle cx="509.0" cy="95.7" r="2.3"/><circle cx="393.5" cy="217.5" r="2.3"/><circle cx="485.5" cy="127.7" r="2.3"/><circle cx="452.4" cy="146.2" r="2.3"/><circle cx="455.3" cy="168.4" r="2.3"/><circle cx="385.5" cy="228.7" r="2.3"/><circle cx="495.0" cy="116.3" r="2.3"/><circle cx="449.0" cy="150.7" r="2.3"/><circle cx="485.0" cy="129.3" r="2.3"/><circle cx="499.5" cy="100.1" r="2.3"/><circle cx="491.0" cy="124.6" r="2.3"/><circle cx="410.7" cy="195.6" r="2.3"/><circle cx="414.5" cy="212.3" r="2.3"/><circle cx="391.6" cy="221.6" r="2.3"/><circle cx="463.4" cy="166.0" r="2.3"/><circle cx="428.2" cy="159.7" r="2.3"/><circle cx="499.8" cy="109.6" r="2.3"/><circle cx="452.4" cy="145.9" r="2.3"/><circle cx="405.4" cy="224.6" r="2.3"/><circle cx="409.7" cy="193.9" r="2.3"/><circle cx="472.5" cy="153.1" r="2.3"/><circle cx="462.0" cy="136.5" r="2.3"/><circle cx="447.2" cy="179.0" r="2.3"/><circle cx="502.1" cy="97.5" r="2.3"/><circle cx="417.0" cy="209.3" r="2.3"/><circle cx="410.2" cy="194.7" r="2.3"/><circle cx="500.4" cy="111.9" r="2.3"/><circle cx="485.5" cy="115.2" r="2.3"/><circle cx="486.6" cy="128.9" r="2.3"/><circle cx="456.6" cy="137.5" r="2.3"/><circle cx="394.4" cy="231.0" r="2.3"/><circle cx="471.0" cy="123.0" r="2.3"/><circle cx="473.5" cy="144.8" r="2.3"/><circle cx="450.2" cy="145.7" r="2.3"/><circle cx="401.3" cy="224.6" r="2.3"/><circle cx="410.9" cy="195.0" r="2.3"/><circle cx="451.1" cy="174.2" r="2.3"/><circle cx="408.5" cy="197.5" r="2.3"/><circle cx="473.0" cy="144.2" r="2.3"/><circle cx="468.7" cy="130.4" r="2.3"/><circle cx="392.4" cy="234.2" r="2.3"/><circle cx="404.3" cy="198.3" r="2.3"/><circle cx="495.9" cy="116.9" r="2.3"/><circle cx="397.9" cy="213.0" r="2.3"/><circle cx="401.9" cy="227.3" r="2.3"/><circle cx="485.4" cy="113.8" r="2.3"/><circle cx="448.3" cy="179.1" r="2.3"/><circle cx="482.8" cy="116.3" r="2.3"/><circle cx="468.5" cy="152.7" r="2.3"/><circle cx="406.9" cy="200.4" r="2.3"/><circle cx="478.9" cy="140.4" r="2.3"/><circle cx="397.7" cy="211.5" r="2.3"/><circle cx="424.5" cy="204.7" r="2.3"/><circle cx="400.2" cy="211.0" r="2.3"/><circle cx="491.5" cy="119.9" r="2.3"/><circle cx="401.3" cy="208.9" r="2.3"/><circle cx="434.7" cy="200.8" r="2.3"/><circle cx="393.7" cy="215.7" r="2.3"/><circle cx="396.4" cy="232.5" r="2.3"/><circle cx="462.3" cy="137.1" r="2.3"/><circle cx="451.1" cy="175.2" r="2.3"/><circle cx="410.9" cy="194.8" r="2.3"/><circle cx="441.2" cy="194.9" r="2.3"/><circle cx="507.2" cy="93.9" r="2.3"/><circle cx="400.1" cy="225.5" r="2.3"/><circle cx="493.5" cy="107.4" r="2.3"/><circle cx="479.8" cy="137.9" r="2.3"/><circle cx="504.9" cy="96.7" r="2.3"/><circle cx="488.3" cy="125.2" r="2.3"/><circle cx="398.5" cy="213.4" r="2.3"/><circle cx="491.2" cy="121.4" r="2.3"/><circle cx="403.6" cy="206.4" r="2.3"/><circle cx="500.2" cy="109.4" r="2.3"/><circle cx="449.8" cy="150.4" r="2.3"/><circle cx="413.7" cy="216.8" r="2.3"/><circle cx="468.0" cy="131.2" r="2.3"/><circle cx="397.3" cy="227.7" r="2.3"/><circle cx="453.3" cy="144.1" r="2.3"/><circle cx="424.8" cy="203.1" r="2.3"/><circle cx="453.0" cy="142.9" r="2.3"/><circle cx="489.3" cy="125.0" r="2.3"/><circle cx="405.6" cy="204.1" r="2.3"/><circle cx="480.9" cy="137.4" r="2.3"/><circle cx="469.5" cy="130.0" r="2.3"/><circle cx="488.7" cy="124.6" r="2.3"/><circle cx="484.8" cy="113.4" r="2.3"/><circle cx="452.2" cy="172.2" r="2.3"/><circle cx="494.9" cy="105.1" r="2.3"/><circle cx="495.4" cy="115.1" r="2.3"/><circle cx="402.7" cy="205.6" r="2.3"/><circle cx="437.1" cy="190.5" r="2.3"/><circle cx="422.0" cy="176.1" r="2.3"/><circle cx="385.6" cy="236.1" r="2.3"/><circle cx="429.4" cy="163.9" r="2.3"/><circle cx="404.7" cy="223.8" r="2.3"/><circle cx="480.9" cy="116.2" r="2.3"/><circle cx="434.0" cy="199.4" r="2.3"/><circle cx="421.7" cy="173.3" r="2.3"/><circle cx="396.9" cy="231.9" r="2.3"/><circle cx="501.0" cy="99.5" r="2.3"/><circle cx="456.4" cy="170.9" r="2.3"/><circle cx="443.9" cy="153.7" r="2.3"/><circle cx="505.7" cy="100.3" r="2.3"/><circle cx="403.6" cy="207.3" r="2.3"/><circle cx="424.0" cy="208.3" r="2.3"/><circle cx="386.1" cy="230.1" r="2.3"/><circle cx="476.0" cy="141.5" r="2.3"/><circle cx="386.0" cy="233.2" r="2.3"/><circle cx="464.2" cy="161.9" r="2.3"/><circle cx="467.0" cy="132.6" r="2.3"/><circle cx="495.8" cy="116.2" r="2.3"/><circle cx="387.5" cy="227.6" r="2.3"/><circle cx="454.0" cy="173.7" r="2.3"/><circle cx="413.9" cy="191.9" r="2.3"/><circle cx="441.6" cy="184.8" r="2.3"/><circle cx="449.8" cy="145.2" r="2.3"/><circle cx="408.1" cy="220.1" r="2.3"/><circle cx="472.3" cy="126.3" r="2.3"/><circle cx="491.5" cy="123.3" r="2.3"/><circle cx="423.9" cy="173.3" r="2.3"/><circle cx="491.9" cy="120.2" r="2.3"/><circle cx="421.3" cy="169.3" r="2.3"/><circle cx="484.5" cy="129.5" r="2.3"/><circle cx="408.2" cy="196.8" r="2.3"/><circle cx="449.8" cy="184.6" r="2.3"/><circle cx="478.8" cy="117.5" r="2.3"/><circle cx="490.3" cy="125.0" r="2.3"/><circle cx="388.0" cy="225.9" r="2.3"/><circle cx="505.3" cy="102.4" r="2.3"/><circle cx="409.2" cy="195.4" r="2.3"/><circle cx="469.5" cy="152.4" r="2.3"/><circle cx="442.5" cy="154.1" r="2.3"/><circle cx="446.7" cy="182.4" r="2.3"/><circle cx="386.0" cy="232.4" r="2.3"/><circle cx="506.4" cy="100.3" r="2.3"/><circle cx="498.3" cy="101.4" r="2.3"/><circle cx="489.9" cy="126.1" r="2.3"/><circle cx="492.1" cy="109.0" r="2.3"/><circle cx="469.7" cy="150.4" r="2.3"/><circle cx="463.5" cy="135.6" r="2.3"/><circle cx="462.0" cy="168.5" r="2.3"/><circle cx="455.8" cy="143.2" r="2.3"/><circle cx="456.8" cy="169.5" r="2.3"/><circle cx="500.7" cy="100.0" r="2.3"/><circle cx="431.3" cy="201.0" r="2.3"/><circle cx="395.3" cy="215.5" r="2.3"/><circle cx="504.7" cy="102.3" r="2.3"/><circle cx="411.5" cy="192.7" r="2.3"/><circle cx="457.3" cy="166.5" r="2.3"/><circle cx="396.5" cy="215.7" r="2.3"/><circle cx="428.4" cy="201.3" r="2.3"/><circle cx="414.4" cy="190.2" r="2.3"/><circle cx="399.5" cy="227.4" r="2.3"/><circle cx="485.0" cy="114.1" r="2.3"/><circle cx="463.9" cy="163.2" r="2.3"/><circle cx="404.3" cy="203.2" r="2.3"/><circle cx="450.3" cy="178.7" r="2.3"/><circle cx="454.0" cy="143.7" r="2.3"/><circle cx="430.2" cy="198.6" r="2.3"/><circle cx="405.8" cy="199.4" r="2.3"/><circle cx="440.6" cy="189.6" r="2.3"/><circle cx="386.0" cy="234.6" r="2.3"/><circle cx="494.1" cy="116.5" r="2.3"/><circle cx="446.6" cy="151.2" r="2.3"/><circle cx="430.3" cy="205.2" r="2.3"/><circle cx="413.0" cy="187.1" r="2.3"/><circle cx="408.3" cy="217.5" r="2.3"/><circle cx="489.9" cy="110.4" r="2.3"/><circle cx="395.7" cy="230.6" r="2.3"/><circle cx="427.4" cy="163.6" r="2.3"/><circle cx="401.6" cy="224.0" r="2.3"/><circle cx="501.4" cy="98.6" r="2.3"/><circle cx="408.4" cy="218.6" r="2.3"/><circle cx="419.9" cy="179.0" r="2.3"/><circle cx="470.9" cy="157.8" r="2.3"/><circle cx="482.4" cy="116.5" r="2.3"/><circle cx="482.4" cy="137.2" r="2.3"/><circle cx="473.3" cy="123.9" r="2.3"/><circle cx="486.4" cy="129.1" r="2.3"/><circle cx="495.9" cy="104.9" r="2.3"/><circle cx="495.0" cy="115.1" r="2.3"/><circle cx="473.9" cy="122.9" r="2.3"/><circle cx="457.1" cy="175.3" r="2.3"/><circle cx="449.1" cy="149.6" r="2.3"/><circle cx="486.7" cy="129.7" r="2.3"/><circle cx="453.6" cy="144.7" r="2.3"/><circle cx="448.9" cy="179.5" r="2.3"/><circle cx="469.2" cy="129.4" r="2.3"/><circle cx="441.4" cy="188.4" r="2.3"/><circle cx="424.0" cy="174.5" r="2.3"/><circle cx="487.1" cy="129.2" r="2.3"/><circle cx="436.3" cy="156.5" r="2.3"/><circle cx="412.5" cy="214.8" r="2.3"/><circle cx="398.3" cy="212.0" r="2.3"/><circle cx="463.3" cy="159.8" r="2.3"/><circle cx="496.4" cy="104.0" r="2.3"/><circle cx="492.8" cy="120.1" r="2.3"/><circle cx="501.9" cy="99.1" r="2.3"/><circle cx="448.1" cy="185.4" r="2.3"/><circle cx="385.9" cy="234.8" r="2.3"/><circle cx="462.4" cy="163.2" r="2.3"/><circle cx="495.8" cy="103.4" r="2.3"/><circle cx="462.0" cy="169.5" r="2.3"/><circle cx="438.1" cy="153.6" r="2.3"/><circle cx="474.8" cy="143.9" r="2.3"/><circle cx="421.1" cy="178.7" r="2.3"/><circle cx="439.6" cy="196.8" r="2.3"/><circle cx="462.5" cy="135.2" r="2.3"/><circle cx="400.5" cy="225.5" r="2.3"/><circle cx="423.9" cy="170.3" r="2.3"/><circle cx="465.8" cy="163.9" r="2.3"/><circle cx="502.5" cy="98.2" r="2.3"/><circle cx="448.2" cy="182.0" r="2.3"/><circle cx="507.3" cy="94.5" r="2.3"/><circle cx="459.9" cy="169.8" r="2.3"/><circle cx="401.9" cy="208.7" r="2.3"/><circle cx="507.3" cy="99.0" r="2.3"/><circle cx="439.4" cy="155.9" r="2.3"/><circle cx="498.9" cy="112.6" r="2.3"/><circle cx="481.2" cy="115.5" r="2.3"/><circle cx="497.6" cy="113.1" r="2.3"/><circle cx="400.2" cy="210.8" r="2.3"/><circle cx="456.1" cy="171.0" r="2.3"/><circle cx="404.2" cy="206.4" r="2.3"/><circle cx="470.3" cy="153.8" r="2.3"/><circle cx="418.5" cy="177.5" r="2.3"/><circle cx="468.9" cy="150.9" r="2.3"/><circle cx="423.6" cy="167.4" r="2.3"/><circle cx="431.8" cy="201.0" r="2.3"/><circle cx="384.3" cy="235.1" r="2.3"/><circle cx="492.2" cy="119.9" r="2.3"/><circle cx="462.3" cy="137.1" r="2.3"/><circle cx="454.7" cy="173.3" r="2.3"/><circle cx="410.6" cy="192.5" r="2.3"/><circle cx="461.2" cy="170.5" r="2.3"/><circle cx="449.4" cy="149.3" r="2.3"/><circle cx="403.2" cy="222.3" r="2.3"/><circle cx="474.2" cy="124.7" r="2.3"/><circle cx="400.2" cy="225.0" r="2.3"/><circle cx="436.9" cy="151.2" r="2.3"/><circle cx="470.5" cy="158.2" r="2.3"/><circle cx="389.3" cy="224.9" r="2.3"/><circle cx="483.7" cy="130.3" r="2.3"/><circle cx="468.1" cy="130.3" r="2.3"/><circle cx="410.3" cy="216.5" r="2.3"/><circle cx="392.1" cy="218.0" r="2.3"/><circle cx="464.3" cy="160.5" r="2.3"/><circle cx="430.6" cy="164.0" r="2.3"/><circle cx="396.1" cy="232.8" r="2.3"/><circle cx="448.2" cy="146.1" r="2.3"/><circle cx="448.1" cy="182.1" r="2.3"/><circle cx="410.1" cy="196.2" r="2.3"/><circle cx="502.8" cy="106.9" r="2.3"/><circle cx="413.4" cy="182.6" r="2.3"/><circle cx="489.1" cy="123.7" r="2.3"/><circle cx="450.6" cy="143.3" r="2.3"/><circle cx="456.7" cy="175.6" r="2.3"/><circle cx="408.4" cy="196.3" r="2.3"/><circle cx="478.5" cy="138.9" r="2.3"/><circle cx="413.2" cy="183.9" r="2.3"/><circle cx="454.5" cy="176.4" r="2.3"/><circle cx="409.1" cy="196.8" r="2.3"/><circle cx="436.2" cy="192.0" r="2.3"/><circle cx="503.7" cy="97.5" r="2.3"/><circle cx="460.6" cy="162.4" r="2.3"/><circle cx="442.0" cy="152.9" r="2.3"/><circle cx="386.5" cy="235.3" r="2.3"/><circle cx="385.2" cy="229.2" r="2.3"/><circle cx="389.2" cy="221.2" r="2.3"/><circle cx="393.3" cy="216.1" r="2.3"/><circle cx="398.3" cy="210.1" r="2.3"/><circle cx="403.3" cy="204.1" r="2.3"/><circle cx="404.3" cy="196.1" r="2.3"/><circle cx="411.3" cy="189.1" r="2.3"/><circle cx="413.3" cy="180.1" r="2.3"/><circle cx="419.3" cy="177.1" r="2.3"/><circle cx="421.3" cy="167.1" r="2.3"/><circle cx="431.3" cy="155.1" r="2.3"/><circle cx="435.3" cy="150.1" r="2.3"/><circle cx="445.3" cy="149.1" r="2.3"/><circle cx="451.3" cy="142.1" r="2.3"/><circle cx="460.3" cy="134.1" r="2.3"/><circle cx="465.3" cy="129.1" r="2.3"/><circle cx="470.3" cy="123.1" r="2.3"/><circle cx="487.3" cy="111.1" r="2.3"/><circle cx="496.3" cy="102.1" r="2.3"/><circle cx="501.3" cy="98.1" r="2.3"/><circle cx="396.2" cy="233.4" r="2.3"/><circle cx="402.2" cy="227.4" r="2.3"/><circle cx="415.2" cy="217.4" r="2.3"/><circle cx="423.2" cy="210.4" r="2.3"/><circle cx="430.2" cy="205.4" r="2.3"/><circle cx="439.2" cy="198.3" r="2.3"/><circle cx="443.3" cy="191.3" r="2.3"/><circle cx="445.3" cy="189.3" r="2.3"/><circle cx="451.3" cy="183.3" r="2.3"/><circle cx="465.3" cy="165.3" r="2.3"/><circle cx="471.3" cy="161.3" r="2.3"/><circle cx="473.3" cy="150.3" r="2.3"/><circle cx="479.3" cy="143.3" r="2.3"/><circle cx="483.3" cy="139.3" r="2.3"/><circle cx="484.3" cy="133.3" r="2.3"/><circle cx="490.3" cy="126.3" r="2.3"/><circle cx="493.3" cy="120.3" r="2.3"/><circle cx="501.3" cy="111.3" r="2.3"/><circle cx="504.3" cy="104.3" r="2.3"/><circle cx="489.6" cy="103.6" r="2.3"/><circle cx="479.0" cy="110.0" r="2.3"/><circle cx="474.0" cy="116.4" r="2.3"/><circle cx="466.6" cy="115.4" r="2.3"/><circle cx="465.0" cy="121.0" r="2.3"/><circle cx="453.0" cy="133.0" r="2.3"/><circle cx="441.0" cy="135.0" r="2.3"/><circle cx="438.0" cy="146.0" r="2.3"/><circle cx="434.0" cy="149.0" r="2.3"/><circle cx="425.6" cy="150.4" r="2.3"/><circle cx="415.6" cy="150.0" r="2.3"/><circle cx="411.0" cy="149.6" r="2.3"/><circle cx="422.0" cy="158.0" r="2.3"/><circle cx="414.0" cy="171.0" r="2.3"/><circle cx="407.0" cy="183.0" r="2.3"/><circle cx="499.4" cy="116.4" r="2.3"/><circle cx="491.0" cy="132.4" r="2.3"/><circle cx="489.0" cy="142.6" r="2.3"/><circle cx="485.6" cy="157.0" r="2.3"/><circle cx="477.0" cy="161.0" r="2.3"/><circle cx="465.0" cy="172.0" r="2.3"/><circle cx="462.0" cy="178.0" r="2.3"/><circle cx="467.4" cy="182.6" r="2.3"/><circle cx="465.0" cy="185.0" r="2.3"/><circle cx="460.0" cy="185.0" r="2.3"/><circle cx="457.0" cy="188.0" r="2.3"/><circle cx="449.0" cy="195.0" r="2.3"/><circle cx="444.0" cy="203.0" r="2.3"/><circle cx="437.0" cy="206.0" r="2.3"/><circle cx="411.6" cy="223.6" r="2.3"/><circle cx="423.6" cy="217.6" r="2.3"/><circle cx="436.6" cy="206.0" r="2.3"/><circle cx="441.0" cy="202.4" r="2.3"/><circle cx="445.0" cy="203.0" r="2.3"/><circle cx="448.6" cy="195.0" r="2.3"/><circle cx="463.4" cy="211.6" r="2.3"/><circle cx="476.0" cy="157.0" r="2.3"/><circle cx="472.0" cy="163.0" r="2.3"/><circle cx="465.4" cy="165.0" r="2.3"/><circle cx="464.4" cy="170.0" r="2.3"/><circle cx="463.0" cy="176.0" r="2.3"/><circle cx="452.4" cy="182.0" r="2.3"/><circle cx="458.0" cy="187.0" r="2.3"/><circle cx="474.4" cy="152.5" r="2.3"/><circle cx="420.0" cy="168.0" r="2.3"/><circle cx="422.0" cy="158.0" r="2.3"/></g><text x="158.5" y="354" class="t12" textLength="283" lengthAdjust="spacing">Average R-squared: Treatment (0.98), Control (0.98)</text><text x="149" y="383" class="t9" textLength="303.5" lengthAdjust="spacing">Genes detected at least one chip were plotted (detection p-value &lt; 0.01)</text></svg></body></html>
